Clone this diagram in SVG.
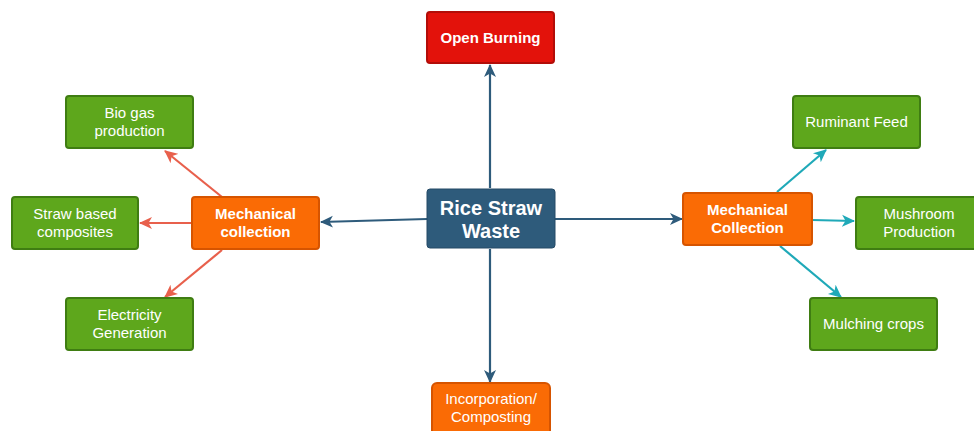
<svg xmlns="http://www.w3.org/2000/svg" width="974" height="431" viewBox="0 0 974 431">
<defs>
<style>
.t{font-family:"Liberation Sans",Arial,sans-serif;fill:#fff;text-anchor:middle;font-size:15px}
.b{font-weight:bold}
.big{font-size:20px}
.red{fill:#e3120b;stroke:#b30d08;stroke-width:2}
.blue{fill:#2e5b7b;stroke:#244a66;stroke-width:1}
.or{fill:#fa6b05;stroke:#d65400;stroke-width:2}
.gr{fill:#5ea71c;stroke:#3f7d12;stroke-width:2}
.cb{stroke:#2e5b7b;stroke-width:2.2;fill:none}
.cr{stroke:#e8604c;stroke-width:2.2;fill:none}
.ct{stroke:#1fa9b8;stroke-width:2.2;fill:none}
</style>
<marker id="ab" markerWidth="14" markerHeight="14" refX="12" refY="7" orient="auto" markerUnits="userSpaceOnUse"><path d="M0,1 L13,7 L0,13 L3.5,7 z" fill="#2e5b7b"/></marker>
<marker id="ar" markerWidth="14" markerHeight="14" refX="12" refY="7" orient="auto" markerUnits="userSpaceOnUse"><path d="M0,1 L13,7 L0,13 L3.5,7 z" fill="#e8604c"/></marker>
<marker id="at" markerWidth="14" markerHeight="14" refX="12" refY="7" orient="auto" markerUnits="userSpaceOnUse"><path d="M0,1 L13,7 L0,13 L3.5,7 z" fill="#1fa9b8"/></marker>
</defs>
<rect width="974" height="431" fill="#fff"/>
<g id="connectors">
<line class="cb" x1="490" y1="188" x2="490" y2="65" marker-end="url(#ab)"/>
<line class="cb" x1="490" y1="249" x2="490" y2="382" marker-end="url(#ab)"/>
<line class="cb" x1="427" y1="219" x2="321" y2="222" marker-end="url(#ab)"/>
<line class="cb" x1="555" y1="219" x2="682" y2="219" marker-end="url(#ab)"/>
<line class="cr" x1="222" y1="197" x2="165" y2="151" marker-end="url(#ar)"/>
<line class="cr" x1="192" y1="223" x2="140" y2="223" marker-end="url(#ar)"/>
<line class="cr" x1="222" y1="250" x2="165" y2="297" marker-end="url(#ar)"/>
<line class="ct" x1="777" y1="192" x2="826" y2="150" marker-end="url(#at)"/>
<line class="ct" x1="812" y1="220" x2="854" y2="221" marker-end="url(#at)"/>
<line class="ct" x1="780" y1="246" x2="841" y2="297" marker-end="url(#at)"/>
</g>
<g id="open-burning"><rect class="red" x="427" y="12" width="127" height="51" rx="3"/><text class="t b" x="490.5" y="43">Open Burning</text></g>
<g id="rice-straw"><rect class="blue" x="427" y="189" width="128" height="59" rx="3"/><text class="t b big" x="491" y="215">Rice Straw</text><text class="t b big" x="491" y="238">Waste</text></g>
<g id="incorporation"><rect class="or" x="432" y="383" width="118" height="60" rx="5"/><text class="t" x="491" y="404">Incorporation/</text><text class="t" x="491" y="422">Composting</text></g>
<g id="mech-left"><rect class="or" x="192" y="197" width="127" height="52" rx="3"/><text class="t b" x="255.5" y="219">Mechanical</text><text class="t b" x="255.5" y="237">collection</text></g>
<g id="biogas"><rect class="gr" x="66" y="96" width="127" height="52" rx="3"/><text class="t" x="129.5" y="118">Bio gas</text><text class="t" x="129.5" y="136">production</text></g>
<g id="composites"><rect class="gr" x="12" y="197" width="126" height="52" rx="3"/><text class="t" x="75" y="219">Straw based</text><text class="t" x="75" y="237">composites</text></g>
<g id="electricity"><rect class="gr" x="66" y="298" width="127" height="52" rx="3"/><text class="t" x="129.5" y="320">Electricity</text><text class="t" x="129.5" y="338">Generation</text></g>
<g id="mech-right"><rect class="or" x="683" y="193" width="129" height="52" rx="3"/><text class="t b" x="747.5" y="215">Mechanical</text><text class="t b" x="747.5" y="233">Collection</text></g>
<g id="ruminant"><rect class="gr" x="793" y="96" width="127" height="52" rx="3"/><text class="t" x="856.5" y="127">Ruminant Feed</text></g>
<g id="mushroom"><rect class="gr" x="856" y="197" width="128" height="52" rx="3"/><text class="t" x="919" y="219">Mushroom</text><text class="t" x="919" y="237">Production</text></g>
<g id="mulching"><rect class="gr" x="810" y="298" width="127" height="52" rx="3"/><text class="t" x="873.5" y="329">Mulching crops</text></g>
</svg>
